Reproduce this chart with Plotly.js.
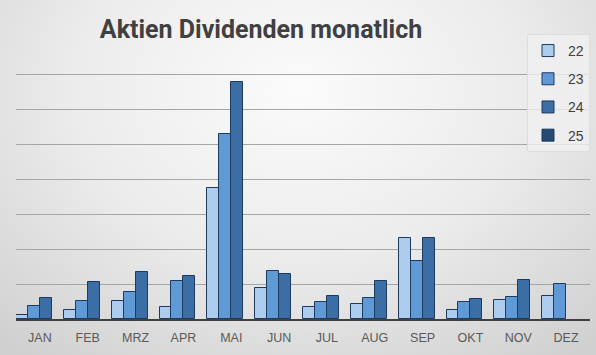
<!DOCTYPE html>
<html>
<head>
<meta charset="utf-8">
<script src="https://cdn.plot.ly/plotly-3.0.1.min.js"></script>
<style>
  html, body { margin: 0; padding: 0; }
  body { width: 596px; height: 355px; overflow: hidden;
    background: radial-gradient(ellipse 75% 95% at 50% 25%, #fbfbfb 0%, #ececec 50%, #d0d0d0 100%); }
  #chart { width: 596px; height: 355px; }
</style>
</head>
<body>
<div id="chart"></div>
<script>
const months = ["JAN","FEB","MRZ","APR","MAI","JUN","JUL","AUG","SEP","OKT","NOV","DEZ"];
const seriesNames = ["22","23","24","25"];
const v22 = [0.11, 0.26, 0.52, 0.34, 3.73, 0.90, 0.34, 0.43, 2.31, 0.26, 0.54, 0.66];
const v23 = [0.37, 0.52, 0.77, 1.08, 5.28, 1.36, 0.49, 0.60, 1.65, 0.49, 0.63, 1.00];
const v24 = [0.60, 1.06, 1.35, 1.23, 6.76, 1.28, 0.66, 1.09, 2.31, 0.57, 1.11, null];
const v25 = [null, null, null, null, null, null, null, null, null, null, null, null];
const colors = ["#aecdee", "#5f9ad6", "#3a6ea5", "#264a73"];

const values = [v22, v23, v24, v25];
const traces = values.map((v, i) => ({
  type: "bar",
  x: months,
  y: v,
  name: seriesNames[i],
  legendgroup: "g" + i,
  marker: { color: colors[i], line: { color: "#1f3a5f", width: 1 } },
  hoverinfo: "x+y+name"
}));

const layout = {
  width: 596, height: 355,
  paper_bgcolor: "rgba(0,0,0,0)",
  plot_bgcolor: "rgba(0,0,0,0)",
  margin: { l: 16, r: 6, t: 39, b: 36, autoexpand: false },
  barmode: "group",
  bargap: 0,
  bargroupgap: 0,
  title: {
    text: "Aktien Dividenden monatlich",
    font: { family: "Roboto, sans-serif", size: 25, color: "#404040", weight: "bold" },
    xref: "container", yref: "container",
    x: 0.438, xanchor: "center",
    y: 0.919, yanchor: "middle"
  },
  xaxis: {
    type: "category",
    range: [-0.5, 11.5],
    showline: true, linecolor: "#404040", linewidth: 1.5,
    showgrid: false,
    ticks: "",
    ticklabelstandoff: 6,
    tickfont: { family: "Liberation Sans, Arial, sans-serif", size: 12.5, color: "#595959" },
    fixedrange: true
  },
  yaxis: {
    range: [0, 8],
    dtick: 1,
    showticklabels: false,
    showgrid: true, gridcolor: "#a6a6a6", gridwidth: 1,
    zeroline: false,
    showline: false,
    fixedrange: true
  },
  legend: {
    x: 1, xanchor: "right",
    y: 1.018, yanchor: "top",
    bgcolor: "rgba(240,240,240,0.8)",
    bordercolor: "#dedede", borderwidth: 1,
    font: { family: "Liberation Sans, Arial, sans-serif", size: 14, color: "#404040" },
    traceorder: "grouped",
    tracegroupgap: 7,
    itemwidth: 30
  },
  showlegend: true
};

Plotly.newPlot("chart", traces, layout, { displayModeBar: false });
</script>
</body>
</html>
